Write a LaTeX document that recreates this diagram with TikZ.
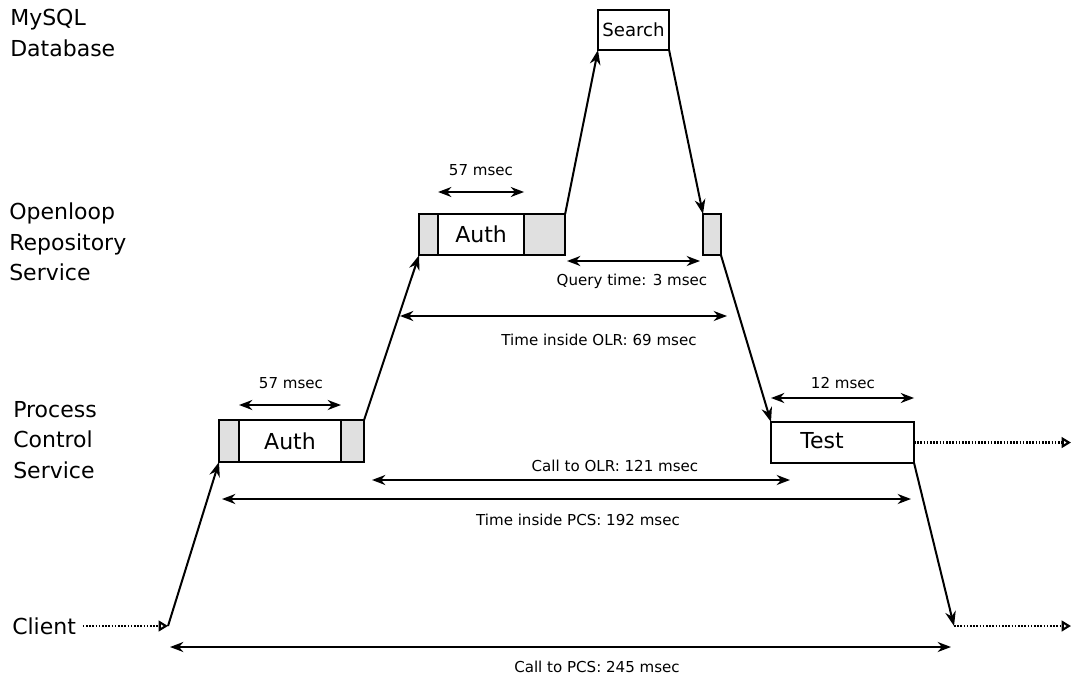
\documentclass[tikz,border=0pt]{standalone}
\usepackage{fontspec}
\setmainfont{DejaVu Sans}
\definecolor{boxgrey}{RGB}{224,224,224}
\usetikzlibrary{arrows.meta,positioning}

\begin{document}
\begin{tikzpicture}[x=0.75pt, y=-0.75pt,
    box/.style={draw, line width=1.7pt, fill=white, inner sep=0pt, outer sep=0pt,
                minimum height=31pt, font=\fontsize{16.5}{20}\selectfont},
    greybox/.style={box, fill=boxgrey},
    lane/.style={font=\fontsize{16.5}{23}\selectfont, align=left, anchor=west, inner sep=0pt},
    small/.style={font=\fontsize{11.3}{14}\selectfont, inner sep=0pt},
    hop/.style={-{Stealth[length=11pt,width=8pt]}, line width=1.5pt},
    dim/.style={{Stealth[length=10pt,width=7.5pt]}-{Stealth[length=10pt,width=7.5pt]}, line width=1.5pt},
    fwd/.style={-{Triangle[open,length=7pt,width=8pt]}, dash pattern=on 1.2pt off 1.2pt, line width=1.6pt}
  ]
  \useasboundingbox (0,0) rectangle (1073,677);

  % tier names
  \node[lane] (mysql) at (10,33) {MySQL\\Database};
  \node[lane] (olr) at (9,242) {Openloop\\Repository\\Service};
  \node[lane] (pcs) at (13,440) {Process\\Control\\Service};
  \node[lane] (client) at (12,626) {Client};

  % boxes
  \node[box, anchor=north west, minimum width=53.3pt, minimum height=30pt,
        font=\fontsize{13.6}{16}\selectfont] (search) at (598,10) {Search};
  \node[greybox, anchor=north west, minimum width=14.3pt] (olrpre) at (419,214) {};
  \node[box, right=0pt of olrpre, minimum width=64.5pt] (olrauth) {Auth};
  \node[greybox, right=0pt of olrauth, minimum width=30.8pt] (olrpost) {};
  \node[greybox, anchor=north west, minimum width=13.5pt] (olrq) at (703,214) {};
  \node[greybox, anchor=north west, minimum width=15pt, minimum height=31.5pt] (pcspre) at (219,420) {};
  \node[box, right=0pt of pcspre, minimum width=76.5pt, minimum height=31.5pt] (pcsauth) {Auth};
  \node[greybox, right=0pt of pcsauth, minimum width=17.3pt, minimum height=31.5pt] (pcspost) {};
  \node[box, anchor=north west, minimum width=107.3pt, minimum height=30.8pt] (test) at (771,422) {};
  \node[font=\fontsize{16.5}{20}\selectfont, inner sep=0pt] (testlbl) at (822,441) {Test};

  % free ends
  \coordinate (cin) at (168,626);
  \coordinate (cout) at (954,626);
  \coordinate (pcsfwd) at (1071,626);
  \coordinate (testfwd) at (1071,441);

  % calls
  \draw[fwd, shorten <=5pt] (client) -- (cin);
  \draw[hop] (cin) -- (pcspre.south west);
  \draw[hop] (pcspost.north east) -- (olrpre.south west);
  \draw[hop] (olrpost.north east) -- (search.south west);
  \draw[hop] (search.south east) -- (olrq.north west);
  \draw[hop] (olrq.south east) -- (test.north west);
  \draw[hop] (test.south east) -- (cout);
  \draw[fwd] (cout) -- (pcsfwd);
  \draw[fwd] (test.east) -- (test.east -| testfwd);

  % timings
  \coordinate (qa) at (567,261);   \coordinate (qb) at (700,261);
  \coordinate (olra) at (400,316); \coordinate (olrb) at (727,316);
  \coordinate (cola) at (372,480); \coordinate (colb) at (790,480);
  \coordinate (pcsa) at (222,499); \coordinate (pcsb) at (911,499);
  \coordinate (cpa) at (170,647);  \coordinate (cpb) at (951,647);
  \draw[dim] (olrauth.west |- 0,192) -- (olrauth.east |- 0,192);
  \draw[dim] (pcsauth.west |- 0,405) -- (pcsauth.east |- 0,405);
  \draw[dim] (test.west |- 0,398) -- (test.east |- 0,398);
  \draw[dim] (qa) -- (qb);
  \draw[dim] (olra) -- (olrb);
  \draw[dim] (cola) -- (colb);
  \draw[dim] (pcsa) -- (pcsb);
  \draw[dim] (cpa) -- (cpb);

  \node[small] (t57olr) at (481,170) {57 msec};
  \node[small] (tquery) at (632,281) {Query time: 3 msec};
  \node[small] (tolr) at (599,340) {Time inside OLR: 69 msec};
  \node[small] (t57pcs) at (291,383) {57 msec};
  \node[small] (t12) at (843,383) {12 msec};
  \node[small] (tcallolr) at (615,466) {Call to OLR: 121 msec};
  \node[small] (tpcs) at (578,520) {Time inside PCS: 192 msec};
  \node[small] (tcallpcs) at (597,667) {Call to PCS: 245 msec};
\end{tikzpicture}
\end{document}
